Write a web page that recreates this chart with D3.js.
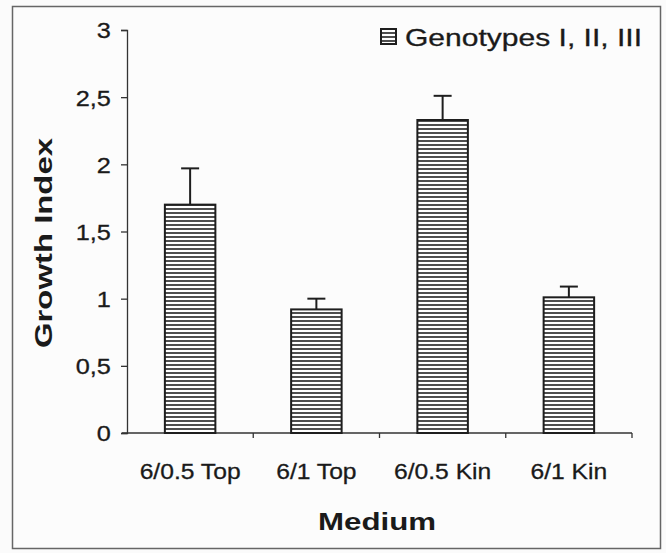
<!DOCTYPE html>
<html><head><meta charset="utf-8">
<script src="https://cdn.jsdelivr.net/npm/d3@7"></script>
<style>
html,body{margin:0;padding:0;background:#fbfbfb;}
text{font-family:"Liberation Sans",Arial,sans-serif;fill:#1a1a1a;}
</style></head>
<body>
<svg id="chart" width="666" height="553"></svg>
<script>
const categories = ["6/0.5 Top", "6/1 Top", "6/0.5 Kin", "6/1 Kin"];
const values = [1.70, 0.92, 2.33, 1.01];
const errors = [0.27, 0.08, 0.18, 0.08];
const yTicks = [0, 0.5, 1, 1.5, 2, 2.5, 3];
const yTickLabels = ["0", "0,5", "1", "1,5", "2", "2,5", "3"];
const legendLabel = "Genotypes  I,  II,  III";
const xTitle = "Medium";
const yTitle = "Growth Index";

const svg = d3.select("#chart");
const pLeft = 127, pRight = 632, pTop = 30, pBottom = 433;

// frame
svg.append("rect").attr("x", 12.5).attr("y", 6.5).attr("width", 648).attr("height", 542)
  .attr("fill", "#fcfcfc").attr("stroke", "#666").attr("stroke-width", 1.5);

// hatch pattern
const defs = svg.append("defs");
const pat = defs.append("pattern").attr("id", "hatch").attr("patternUnits", "userSpaceOnUse")
  .attr("width", 8).attr("height", 4);
pat.append("rect").attr("width", 8).attr("height", 4).attr("fill", "#fff");
pat.append("line").attr("x1", 0).attr("x2", 8).attr("y1", 1).attr("y2", 1)
  .attr("stroke", "#222").attr("stroke-width", 1.6);

const x = d3.scaleBand().domain(categories).range([pLeft, pRight]).paddingInner(0.6).paddingOuter(0.3);
const y = d3.scaleLinear().domain([0, 3]).range([pBottom, pTop]);

// y axis
const yAxis = d3.axisLeft(y).tickValues(yTicks).tickSize(6).tickPadding(8)
  .tickFormat((d, i) => yTickLabels[i]);
const gy = svg.append("g").attr("transform", `translate(${pLeft},0)`).call(yAxis);
gy.select(".domain").attr("stroke", "#333").attr("stroke-width", 1.3);
gy.selectAll(".tick line").attr("stroke", "#333").attr("stroke-width", 1.3);
gy.selectAll(".tick text").style("font-size", "22px").attr("fill", "#1a1a1a")
  .attr("stroke", "#1a1a1a").attr("stroke-width", 0.3)
  .attr("transform", "scale(1.15,1)").attr("dy", "0.36em");

// x axis
const xAxis = d3.axisBottom(x).tickSize(0).tickPadding(30);
const gx = svg.append("g").attr("transform", `translate(0,${pBottom})`).call(xAxis);
gx.select(".domain").remove();
gx.append("line").attr("x1", pLeft - 5).attr("x2", pRight).attr("y1", 0).attr("y2", 0)
  .attr("stroke", "#333").attr("stroke-width", 1.3);
const boundPos = categories.slice(1).map(c => x(c) - (x.step() - x.bandwidth()) / 2).concat([pRight]);
gx.selectAll(".bt").data(boundPos).enter().append("line")
  .attr("x1", d => d).attr("x2", d => d).attr("y1", 0).attr("y2", 5)
  .attr("stroke", "#333").attr("stroke-width", 1.3);
gx.selectAll(".tick text").style("font-size", "22px").attr("fill", "#1a1a1a")
  .attr("stroke", "#1a1a1a").attr("stroke-width", 0.3)
  .each(function(d) {
    const t = d3.select(this);
    t.attr("textLength", t.node().getComputedTextLength() * 1.12).attr("lengthAdjust", "spacingAndGlyphs");
  });

// error bars
const eg = svg.append("g");
categories.forEach((c, i) => {
  const cx = x(c) + x.bandwidth() / 2;
  eg.append("line").attr("x1", cx).attr("x2", cx).attr("y1", y(values[i])).attr("y2", y(values[i] + errors[i]))
    .attr("stroke", "#1e1e1e").attr("stroke-width", 2);
  eg.append("line").attr("x1", cx - 9).attr("x2", cx + 9).attr("y1", y(values[i] + errors[i])).attr("y2", y(values[i] + errors[i]))
    .attr("stroke", "#1e1e1e").attr("stroke-width", 2);
});

// bars
svg.append("g").selectAll("rect").data(categories).enter().append("rect")
  .attr("x", d => x(d)).attr("width", x.bandwidth())
  .attr("y", (d, i) => y(values[i])).attr("height", (d, i) => y(0) - y(values[i]))
  .attr("fill", "url(#hatch)").attr("stroke", "#1e1e1e").attr("stroke-width", 2);

// legend
svg.append("rect").attr("x", 381).attr("y", 29).attr("width", 15).attr("height", 15)
  .attr("fill", "url(#hatch)").attr("stroke", "#1e1e1e").attr("stroke-width", 2);
svg.append("text").attr("x", 405).attr("y", 46).style("font-size", "24px")
  .attr("stroke", "#1a1a1a").attr("stroke-width", 0.3)
  .attr("textLength", 237).attr("lengthAdjust", "spacingAndGlyphs").text(legendLabel);

// titles
svg.append("text").attr("x", 377).attr("y", 530).attr("text-anchor", "middle")
  .style("font-size", "24px").style("font-weight", "bold").attr("fill", "#2a2a2a")
  .attr("textLength", 118).attr("lengthAdjust", "spacingAndGlyphs").text(xTitle);
svg.append("text").attr("transform", "translate(52,243) rotate(-90)").attr("text-anchor", "middle")
  .style("font-size", "24px").style("font-weight", "bold").attr("fill", "#2a2a2a")
  .attr("textLength", 210).attr("lengthAdjust", "spacingAndGlyphs").text(yTitle);
</script>
</body></html>
